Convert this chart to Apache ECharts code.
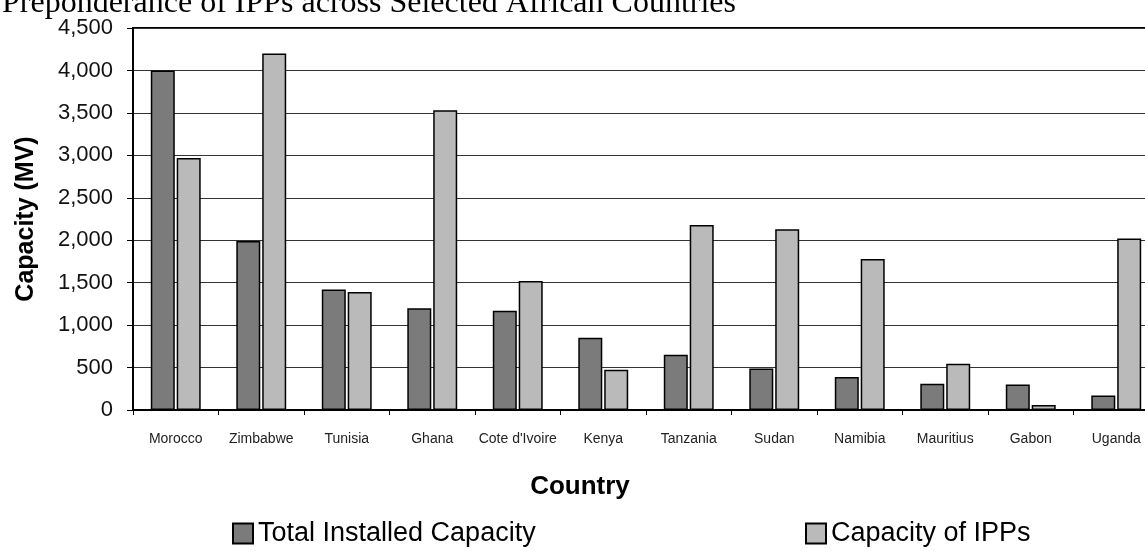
<!DOCTYPE html>
<html>
<head>
<meta charset="utf-8">
<title>Preponderance of IPPs across Selected African Countries</title>
<script src="https://cdn.jsdelivr.net/npm/echarts@6/dist/echarts.min.js"></script>
<style>
  html, body { margin: 0; padding: 0; background: #fff; }
  #chart { width: 1145px; height: 551px; }
</style>
</head>
<body>
<div id="chart"></div>
<script>
var countries = ['Morocco', 'Zimbabwe', 'Tunisia', 'Ghana', "Cote d'Ivoire", 'Kenya',
                 'Tanzania', 'Sudan', 'Namibia', 'Mauritius', 'Gabon', 'Uganda'];
var totalInstalled = [4000, 1990, 1420, 1200, 1170, 850, 650, 490, 390, 310, 300, 170];
var ippCapacity = [2970, 4200, 1390, 3530, 1520, 475, 2180, 2130, 1780, 545, 60, 2020];

var sans = '"Liberation Sans", Arial, sans-serif';

var myChart = echarts.init(document.getElementById('chart'));

var option = {
    animation: false,
    backgroundColor: '#fff',
    title: {
        text: 'Preponderance of IPPs across Selected African Countries',
        left: 2,
        top: -12,
        padding: 0,
        textStyle: {
            fontFamily: '"Liberation Serif", "Times New Roman", serif',
            fontSize: 32,
            fontWeight: 'normal',
            color: '#000'
        }
    },
    legend: [{
        data: ['Total Installed Capacity'],
        left: 232,
        top: 520,
        padding: 0,
        icon: 'rect',
        itemWidth: 20,
        itemHeight: 20,
        textStyle: { fontFamily: sans, fontSize: 27, color: '#000' }
    }, {
        data: ['Capacity of IPPs'],
        left: 805,
        top: 520,
        padding: 0,
        icon: 'rect',
        itemWidth: 20,
        itemHeight: 20,
        textStyle: { fontFamily: sans, fontSize: 27, color: '#000' }
    }],
    // plot runs past the right edge of the picture, as in the scan
    grid: {
        left: 133,
        top: 28,
        right: -14,
        bottom: 141,
        outerBoundsMode: 'none',
        containLabel: false,
        show: true,
        borderColor: '#000',
        borderWidth: 2
    },
    xAxis: {
        type: 'category',
        data: countries,
        name: 'Country',
        nameLocation: 'middle',
        nameGap: 64,
        nameTextStyle: {
            fontFamily: sans,
            fontSize: 26,
            fontWeight: 'bold',
            color: '#000',
            padding: [0, 132, 0, 0]
        },
        axisLine: { lineStyle: { color: '#000', width: 2 } },
        axisTick: { show: true, length: 5, lineStyle: { color: '#000' } },
        axisLabel: { fontFamily: sans, fontSize: 14, color: '#222', margin: 22, interval: 0 }
    },
    yAxis: {
        type: 'value',
        min: 0,
        max: 4500,
        interval: 500,
        name: 'Capacity (MV)',
        nameLocation: 'middle',
        nameRotate: 90,
        nameGap: 94,
        nameTextStyle: { fontFamily: sans, fontSize: 25, fontWeight: 'bold', color: '#000' },
        axisLine: { show: true, lineStyle: { color: '#000', width: 2 } },
        axisTick: { show: true, length: 6, lineStyle: { color: '#000' } },
        axisLabel: {
            fontFamily: sans,
            fontSize: 22,
            color: '#111',
            margin: 20,
            formatter: function (v) { return v.toLocaleString('en-US'); }
        },
        splitLine: { show: true, lineStyle: { color: '#333', width: 1.2 } }
    },
    series: [{
        name: 'Total Installed Capacity',
        type: 'bar',
        data: totalInstalled,
        barWidth: 24,
        barGap: '8%',
        itemStyle: { color: '#7b7b7b', borderColor: '#000', borderWidth: 1.5 }
    }, {
        name: 'Capacity of IPPs',
        type: 'bar',
        data: ippCapacity,
        barWidth: 24,
        itemStyle: { color: '#bababa', borderColor: '#000', borderWidth: 1.5 }
    }]
};

myChart.setOption(option);
</script>
</body>
</html>
